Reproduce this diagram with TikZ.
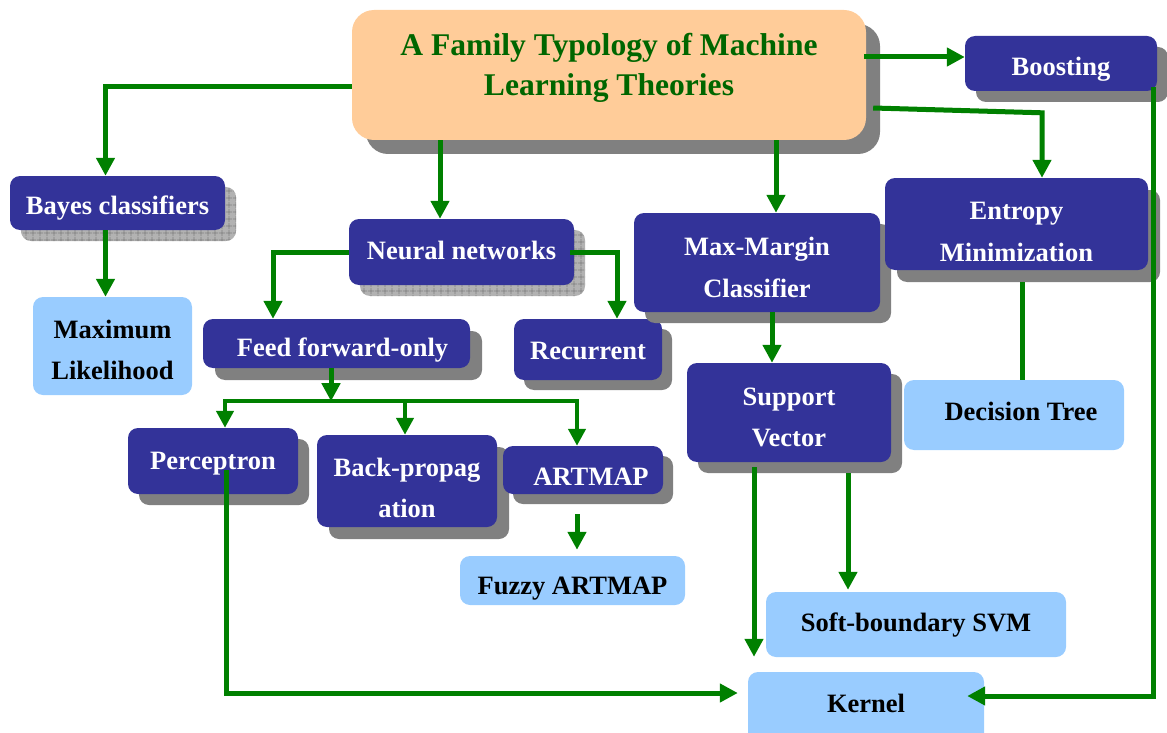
\documentclass[tikz,border=0pt]{standalone}
\usepackage{fontspec}
\setmainfont{Liberation Serif}
\usetikzlibrary{calc,arrows.meta,shadows,patterns.meta}
\definecolor{navy}{RGB}{51,51,153}
\definecolor{lblue}{RGB}{153,204,255}
\definecolor{peach}{RGB}{255,204,153}
\definecolor{shgray}{RGB}{128,128,128}
\definecolor{lgreen}{RGB}{0,128,0}
\definecolor{tgreen}{RGB}{0,102,0}
\begin{document}
\begin{tikzpicture}[x=1pt,y=-1pt,
  every node/.style={font=\bfseries\fontsize{26.5}{41.5}\selectfont, inner sep=0pt, align=center},
  dark/.style={rectangle, rounded corners=10pt, fill=navy},
  light/.style={rectangle, rounded corners=10pt, fill=lblue},
  wtext/.style={text=white},
  btext/.style={text=black},
  sz/.style 2 args={minimum width=#1pt, minimum height=#2pt},
  gshadow/.style={drop shadow={shadow xshift=#1pt, shadow yshift=-#1pt, fill=shgray, opacity=1}},
  gridshadow/.style={drop shadow={shadow xshift=11pt, shadow yshift=-11pt, fill=gray!60, opacity=1},
                     drop shadow={shadow xshift=11pt, shadow yshift=-11pt, pattern={Hatch[angle=0,distance=6.5pt,line width=0.9pt]}, pattern color=gray, opacity=1}},
  link/.style={draw=lgreen, line width=5pt},
  arr/.style={link, -{Triangle[length=18pt,width=18pt]}},
]
\path[use as bounding box] (0,0) rectangle (1167,733);
\clip (0,0) rectangle (1167,733);

% boxes
\node[rectangle, rounded corners=22pt, fill=peach, sz={514}{130}, gshadow=14] (title) at (609,75) {};
\node[text=tgreen, font=\bfseries\fontsize{31.6}{40}\selectfont] (titleT) at ($(title)+(0,-7)$)
      {A Family Typology of Machine\\Learning Theories};
\node[dark, sz={192}{55}, gshadow=11] (boost) at (1061,63.5) {};
\node[wtext] (boostT) at ($(boost)+(0,6)$) {Boosting};
\node[dark, sz={215}{54}, gridshadow] (bayes) at (117.5,203) {};
\node[wtext] (bayesT) at ($(bayes)+(0,5)$) {Bayes classifiers};
\node[light, sz={159}{98}] (maxlik) at (112.5,346) {};
\node[btext] (maxlikT) at ($(maxlik)+(0,4)$) {Maximum\\Likelihood};
\node[dark, sz={225}{66}, gridshadow] (neural) at (461.5,252) {};
\node[wtext] (neuralT) at ($(neural)+(0,-2)$) {Neural networks};
\node[dark, sz={267}{49}, gshadow=12] (feed) at (336.5,343.5) {};
\node[wtext] (feedT) at ($(feed)+(6,7)$) {Feed forward-only};
\node[dark, sz={148}{61}, gshadow=10] (recur) at (588,349.5) {};
\node[wtext] (recurT) at ($(recur)+(0,1)$) {Recurrent};
\node[dark, sz={246}{99}, gshadow=11] (maxmar) at (757,262.5) {};
\node[wtext] (maxmarT) at ($(maxmar)+(0,5)$) {Max-Margin\\Classifier};
\node[dark, sz={263}{92}, gshadow=12] (entropy) at (1016.5,224) {};
\node[wtext] (entropyT) at ($(entropy)+(0,8)$) {Entropy\\Minimization};
\node[light, sz={220}{70}] (dtree) at (1014,415) {};
\node[btext] (dtreeT) at ($(dtree)+(7,-4)$) {Decision Tree};
\node[dark, sz={204}{99}, gshadow=11] (sv) at (789,412.5) {};
\node[wtext] (svT) at ($(sv)+(0,5)$) {Support\\Vector};
\node[light, sz={300}{65}] (soft) at (916,624.5) {};
\node[btext] (softT) at ($(soft)+(0,1)$) {Soft-boundary SVM};
\node[light, sz={236}{76}] (kernel) at (866,710) {};
\node[btext] (kernelT) at ($(kernel)+(0,-7)$) {Kernel};
\node[dark, sz={170}{66}, gshadow=11] (percep) at (213,461) {};
\node[dark, sz={180}{92}, gshadow=12] (backp) at (407,481) {};
\node[wtext] (backpT) at ($(backp)+(0,7)$) {Back-propag\\ation};
\node[dark, sz={160}{48}, gshadow=10] (artmap) at (583,470) {};
\node[wtext] (artmapT) at ($(artmap)+(8,7)$) {ARTMAP};
\node[light, sz={225}{49}] (fuzzy) at (572.5,580.5) {};
\node[btext] (fuzzyT) at ($(fuzzy)+(0,8)$) {Fuzzy ARTMAP};

% connectors
\draw[arr] ($(title.west)+(0,12)$) -| ($(bayes.north)+(-12,0)$);
\coordinate (t1) at ($(title.south)+(-169,0)$);
\draw[arr] (t1) -- (t1 |- neural.north);
\coordinate (t2) at ($(title.south)+(167,0)$);
\draw[arr] (t2) -- (t2 |- maxmar.north);
\coordinate (t3) at ($(title.east)+(-2,-18)$);
\draw[arr] (t3) -- (boost.west |- t3);
\coordinate (e1) at ($(entropy.north)+(25.5,0)$);
\draw[arr] ($(title.east)+(7,33)$) -- ($(e1)+(0,-65)$) -- (e1);
\coordinate (b1) at ($(bayes.south)+(-12,0)$);
\draw[arr] (b1) -- (b1 |- maxlik.north);
\draw[arr] (neural.west) -| ($(feed.north)+(-63.5,0)$);
\draw[arr] ($(neural.east)+(-4,0)$) -| ($(recur.north)+(29,0)$);
\coordinate (bus) at ($(feed.south)+(-5.5,33)$);
\draw[arr] ($(feed.south)+(-5.5,0)$) -- (bus);
\coordinate (p1) at ($(percep.north)+(12,0)$);
\coordinate (a1) at ($(artmap.north)+(-6,0)$);
\coordinate (k1) at ($(backp.north)+(-2,0)$);
\draw[link, line width=4.5pt, {Triangle[length=17pt,width=17pt]}-{Triangle[length=17pt,width=17pt]}]
  (p1) -- (p1 |- bus) -- (a1 |- bus) -- (a1);
\draw[arr, line width=4.5pt, -{Triangle[length=17pt,width=17pt]}] (k1 |- bus) -- (k1);
\draw[arr] ($(artmap.south)+(-6,20)$) -- ($(a1 |- fuzzy.north)+(0,-6)$);
\coordinate (m1) at ($(maxmar.south)+(15,0)$);
\draw[arr] (m1) -- (m1 |- sv.north);
\coordinate (d1) at ($(entropy.south)+(5.5,12)$);
\draw[link] (d1) -- (d1 |- dtree.north);
\coordinate (s1) at ($(sv.south)+(-35,5)$);
\draw[arr] (s1) -- ($(s1 |- kernel.north)+(0,-15)$);
\coordinate (s2) at ($(sv.south)+(59,11)$);
\draw[arr] (s2) -- ($(s2 |- soft.north)+(0,-2)$);
\draw[arr] ($(percep.center)+(13,9)$) |- ($(kernel.west)+(-10,-17)$);
\node[wtext] (percepT) at ($(percep)+(0,3)$) {Perceptron};
\draw[arr] ($(boost.east)+(-4,24)$) |- ($(kernel.east)+(-17,-14)$);
\end{tikzpicture}
\end{document}
